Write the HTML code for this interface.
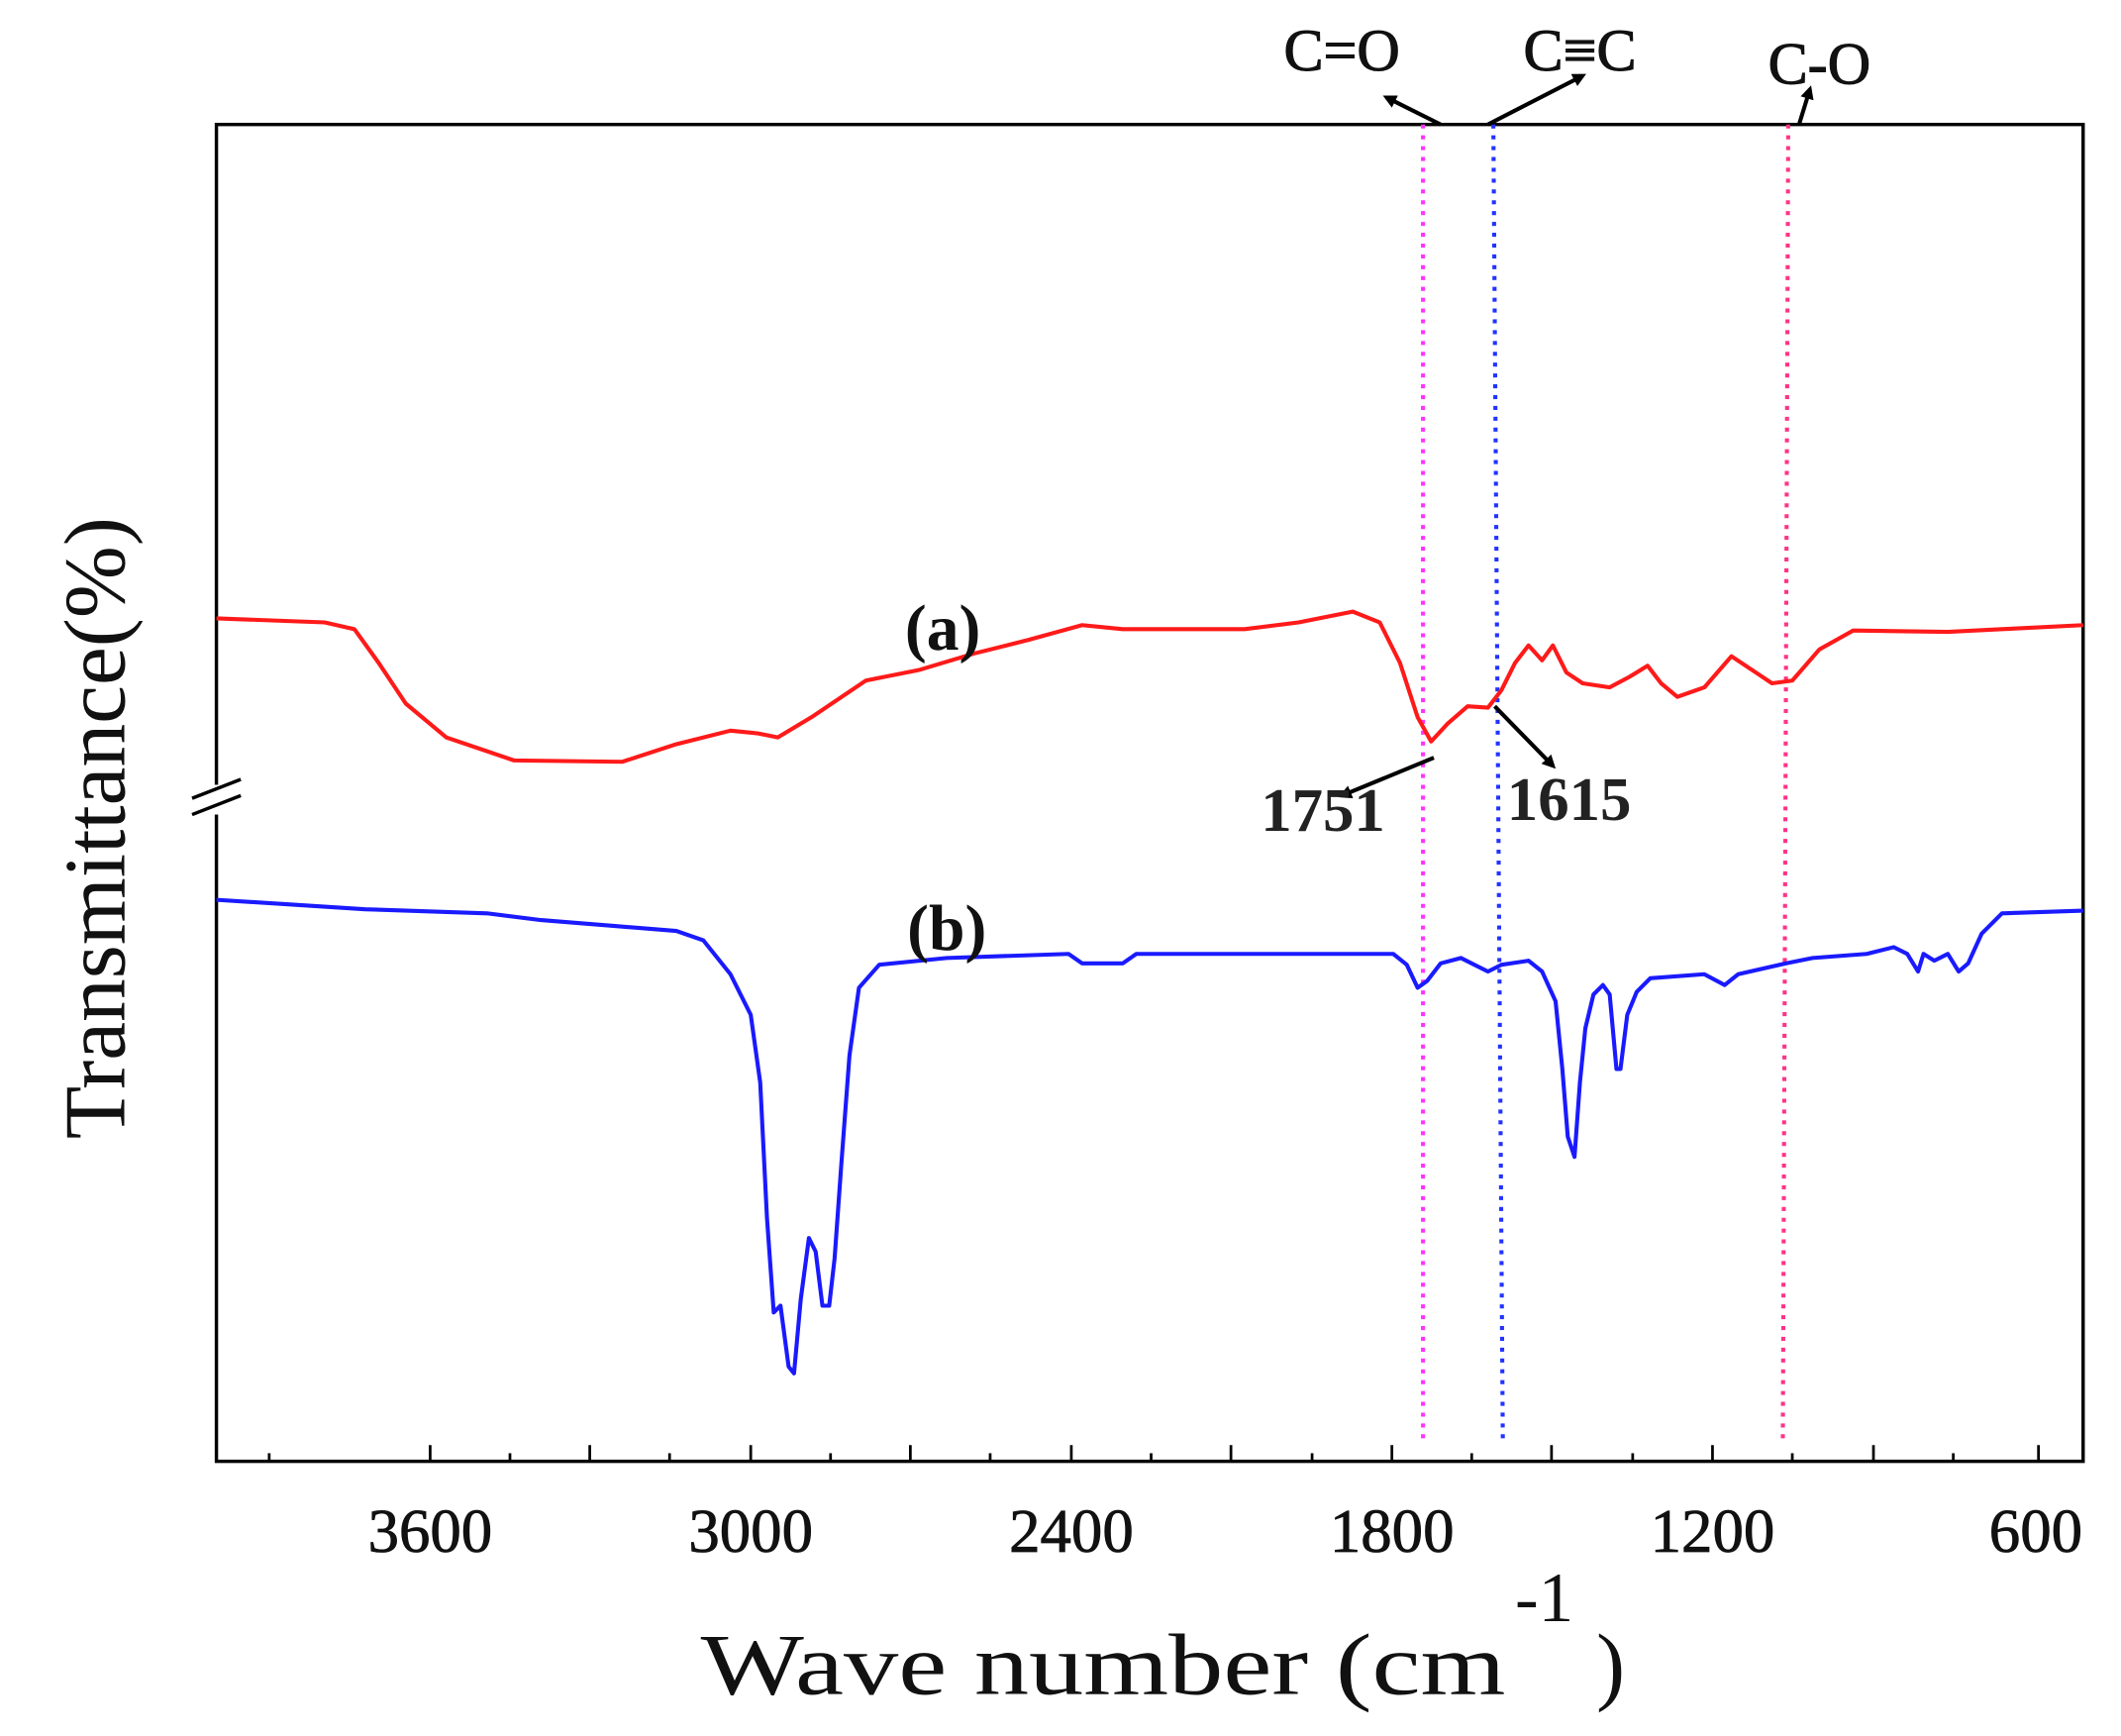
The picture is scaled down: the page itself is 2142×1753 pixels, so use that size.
<!DOCTYPE html>
<html><head><meta charset="utf-8"><style>html,body{margin:0;padding:0;background:#fff}svg{display:block}</style></head>
<body>
<svg width="2142" height="1753" viewBox="0 0 1568 1283" preserveAspectRatio="none" xmlns="http://www.w3.org/2000/svg" font-family="Liberation Serif, serif">
<defs><marker id="ar" markerWidth="10" markerHeight="10" refX="7" refY="5" orient="auto" markerUnits="userSpaceOnUse"><path d="M0,0 L10,5 L0,10 z" fill="#000"/></marker></defs>
<rect x="160" y="92" width="1380" height="988" fill="none" stroke="#000" stroke-width="2.5"/>
<g stroke="#000" stroke-width="2">
<line x1="318" y1="1080" x2="318" y2="1068"/><line x1="436" y1="1080" x2="436" y2="1068"/><line x1="199" y1="1080" x2="199" y2="1074"/>
<line x1="377" y1="1080" x2="377" y2="1074"/><line x1="495" y1="1080" x2="495" y2="1074"/>
<line x1="555" y1="1080" x2="555" y2="1068"/><line x1="614" y1="1080" x2="614" y2="1074"/><line x1="673" y1="1080" x2="673" y2="1068"/><line x1="732" y1="1080" x2="732" y2="1074"/>
<line x1="792" y1="1080" x2="792" y2="1068"/><line x1="851" y1="1080" x2="851" y2="1074"/><line x1="910" y1="1080" x2="910" y2="1068"/><line x1="970" y1="1080" x2="970" y2="1074"/>
<line x1="1029" y1="1080" x2="1029" y2="1068"/><line x1="1088" y1="1080" x2="1088" y2="1074"/><line x1="1147" y1="1080" x2="1147" y2="1068"/><line x1="1207" y1="1080" x2="1207" y2="1074"/>
<line x1="1266" y1="1080" x2="1266" y2="1068"/><line x1="1325" y1="1080" x2="1325" y2="1074"/><line x1="1385" y1="1080" x2="1385" y2="1068"/><line x1="1444" y1="1080" x2="1444" y2="1074"/><line x1="1507" y1="1080" x2="1507" y2="1068"/>
</g>
<g font-size="46" text-anchor="middle" fill="#111" stroke="#111" stroke-width="0.6">
<text x="318" y="1147">3600</text><text x="555" y="1147">3000</text><text x="792" y="1147">2400</text><text x="1029" y="1147">1800</text><text x="1266" y="1147">1200</text><text x="1505" y="1147">600</text>
</g>
<text x="518" y="1252" font-size="64" fill="#111" textLength="595" lengthAdjust="spacingAndGlyphs">Wave number (cm</text>
<text x="1120" y="1198" font-size="52" fill="#111">-1</text>
<text x="1180" y="1252" font-size="64" fill="#111">)</text>
<text transform="translate(92,612) rotate(-90)" font-size="64" text-anchor="middle" fill="#111">Transmittance(%)</text>
<rect x="150" y="580" width="20" height="22" fill="#fff"/>
<g stroke="#000" stroke-width="2.5"><line x1="142" y1="590" x2="178" y2="576"/><line x1="142" y1="602" x2="178" y2="588"/></g>
<g stroke-width="3" stroke-dasharray="3,5" fill="none">
<line x1="1052" y1="92" x2="1052" y2="1065" stroke="#ff33ff"/>
<line x1="1104" y1="92" x2="1111" y2="1065" stroke="#2233ff"/>
<line x1="1322" y1="92" x2="1318" y2="1065" stroke="#ff3388"/>
</g>
<polyline fill="none" stroke="#ff1a1a" stroke-width="3" stroke-linejoin="round" points="160,457 240,460 262,465 280,490 300,520 330,545 380,562 460,563 500,550 540,540 560,542 575,545 600,530 640,503 680,495 720,483 760,473 800,462 830,465 920,465 960,460 1000,452 1020,460 1035,490 1048,530 1058,548 1070,535 1085,522 1100,523 1110,510 1120,490 1130,477 1140,488 1148,477 1158,497 1170,505 1190,508 1205,500 1218,492 1228,505 1240,515 1260,508 1280,485 1295,495 1310,505 1325,503 1345,480 1370,466 1440,467 1480,465 1540,462"/>
<polyline fill="none" stroke="#1a1aff" stroke-width="3" stroke-linejoin="round" points="160,665 270,672 360,675 400,680 450,684 500,688 520,695 540,720 555,750 562,800 567,900 572,970 577,965 583,1010 587,1015 592,960 598,915 603,925 608,965 613,965 617,930 622,860 628,780 635,730 650,713 700,708 790,705 800,712 830,712 840,705 1030,705 1040,713 1048,730 1055,725 1065,712 1080,708 1100,718 1110,713 1130,710 1140,718 1150,740 1155,790 1159,840 1164,855 1168,800 1172,760 1178,735 1185,728 1190,735 1195,790 1198,790 1203,750 1210,733 1220,723 1260,720 1275,728 1285,720 1320,712 1340,708 1380,705 1400,700 1410,705 1418,718 1422,705 1430,710 1440,705 1448,718 1455,712 1465,690 1480,675 1540,673"/>
<g stroke="#000" stroke-width="3" fill="none" marker-end="url(#ar)">
<line x1="1065" y1="92" x2="1025" y2="72"/>
<line x1="1100" y1="92" x2="1170" y2="56"/>
<line x1="1330" y1="92" x2="1338" y2="66"/>
<line x1="1060" y1="560" x2="992" y2="588"/>
<line x1="1105" y1="522" x2="1148" y2="566"/>
</g>
<g font-size="44" fill="#111" text-anchor="middle" stroke="#111" stroke-width="0.8">
<text x="992" y="52">C=O</text><text x="1168" y="52">C≡C</text><text x="1345" y="62">C-O</text>
</g>
<g font-size="48" font-weight="bold" fill="#111" text-anchor="middle">
<text x="697" y="480">(a)</text><text x="700" y="702">(b)</text>
</g>
<g font-size="46" font-weight="bold" fill="#222" text-anchor="middle">
<text x="978" y="614">1751</text><text x="1160" y="606">1615</text>
</g>
</svg>
</body></html>
